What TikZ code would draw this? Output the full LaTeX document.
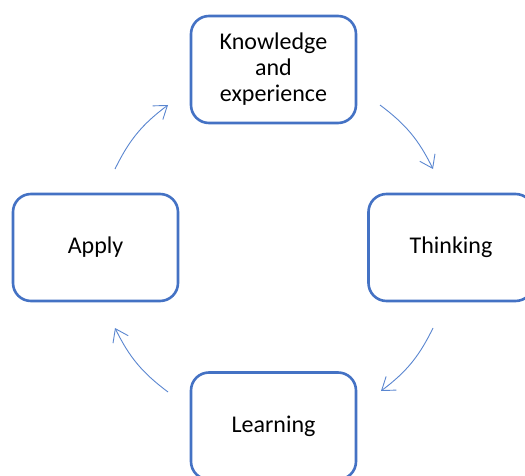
\documentclass[tikz,border=0pt]{standalone}
\usepackage{fontspec}
\setmainfont{Carlito}
\usetikzlibrary{arrows.meta}
\definecolor{boxblue}{RGB}{68,114,196}
\definecolor{arrowblue}{RGB}{90,134,208}
\begin{document}
\begin{tikzpicture}[x=1pt,y=1pt,
  stage/.style={draw=boxblue, line width=2.6pt, rounded corners=18pt,
    minimum width=165pt, minimum height=107pt, align=center,
    font=\fontsize{24}{26}\selectfont, text=black, inner sep=2pt},
  flow/.style={draw=arrowblue, line width=0.9pt, bend left=13.5,
    -{Straight Barb[length=12pt,width=17pt,line width=0.9pt]}}]
\useasboundingbox (0,0) rectangle (525,475);
\clip (0,0) rectangle (525,475);
% the four stages of the cycle
\node[stage] (know)  at (273.5,405.5) {Knowledge\\and\\experience};
\node[stage] (think) at (451,227.5)   {Thinking};
\node[stage] (apply) at (95.5,227.5)  {Apply};
\node[stage] (learn) at (273.5,49)    {Learning};
% end points of the curved arrows
\coordinate (a1s) at (380,370); \coordinate (a1e) at (433,306);
\coordinate (a2s) at (433,147); \coordinate (a2e) at (381,84);
\coordinate (a3s) at (168,83);  \coordinate (a3e) at (115,147);
\coordinate (a4s) at (115,306); \coordinate (a4e) at (168,370);
\draw[flow] (a1s) to (a1e);
\draw[flow] (a2s) to (a2e);
\draw[flow] (a3s) to (a3e);
\draw[flow] (a4s) to (a4e);
\end{tikzpicture}
\end{document}
